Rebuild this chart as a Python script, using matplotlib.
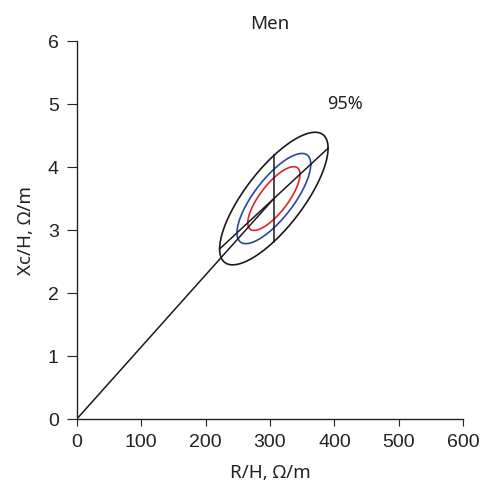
import matplotlib
matplotlib.use("Agg")
import matplotlib.pyplot as plt
import numpy as np

# summary values (R/H and Xc/H, men)
mean_R = 306.0
mean_Xc = 3.50
sd_R = 34.4
sd_Xc = 0.43
corr = 0.76

# tolerance ellipses
levels = [0.50, 0.75, 0.95]
colours = ["#d8262c", "#2747a3", "#1a1a1a"]

xticks = [0, 100, 200, 300, 400, 500, 600]
yticks = [0, 1, 2, 3, 4, 5, 6]

label_font = "Noto Sans"
tick_font = "Liberation Sans"


def ellipse_points(k, n=400):
    t = np.linspace(0, 2 * np.pi, n)
    zx = np.cos(t)
    zy = corr * np.cos(t) + np.sqrt(1 - corr ** 2) * np.sin(t)
    return mean_R + k * sd_R * zx, mean_Xc + k * sd_Xc * zy


fig = plt.figure(figsize=(4.8, 4.95), dpi=100)
ax = fig.add_axes([0.160, 0.1535, 0.805, 0.7635])

for p, c in zip(levels, colours):
    k = np.sqrt(-2 * np.log(1 - p))
    ex, ey = ellipse_points(k)
    ax.plot(ex, ey, color=c, lw=1.2)

k95 = np.sqrt(-2 * np.log(1 - levels[-1]))

# line from origin to the mean vector
ax.plot([0, mean_R], [0, mean_Xc], color="#1a1a1a", lw=1.1)
# line through leftmost and rightmost points of the 95% ellipse
ax.plot([mean_R - k95 * sd_R, mean_R + k95 * sd_R],
        [mean_Xc - k95 * corr * sd_Xc, mean_Xc + k95 * corr * sd_Xc],
        color="#1a1a1a", lw=1.1)
# vertical chord at mean R
half = k95 * sd_Xc * np.sqrt(1 - corr ** 2)
ax.plot([mean_R, mean_R], [mean_Xc - half, mean_Xc + half],
        color="#1a1a1a", lw=1.1)

ax.text(417, 5.0, "95%", ha="center", va="center", fontsize=13,
        family=label_font, color="#222222")

ax.set_xlim(0, 600)
ax.set_ylim(0, 6)
ax.set_xticks(xticks)
ax.set_yticks(yticks)
ax.spines["top"].set_visible(False)
ax.spines["right"].set_visible(False)
for s in ["left", "bottom"]:
    ax.spines[s].set_color("#222222")
    ax.spines[s].set_linewidth(1.0)
ax.tick_params(axis="x", length=5, pad=6, labelsize=14, colors="#222222")
ax.tick_params(axis="y", length=7, pad=6, labelsize=14, colors="#222222")
for lab in ax.get_xticklabels() + ax.get_yticklabels():
    lab.set_family(tick_font)

ax.set_title("Men", fontsize=13.5, family=label_font, pad=9, color="#222222")
ax.set_xlabel("R/H, \u03a9/m", fontsize=13.5, family=label_font,
              labelpad=9, color="#222222")
ax.set_ylabel("Xc/H, \u03a9/m", fontsize=13.5, family=label_font,
              labelpad=9, color="#222222")

fig.savefig("out.png", dpi=100)
